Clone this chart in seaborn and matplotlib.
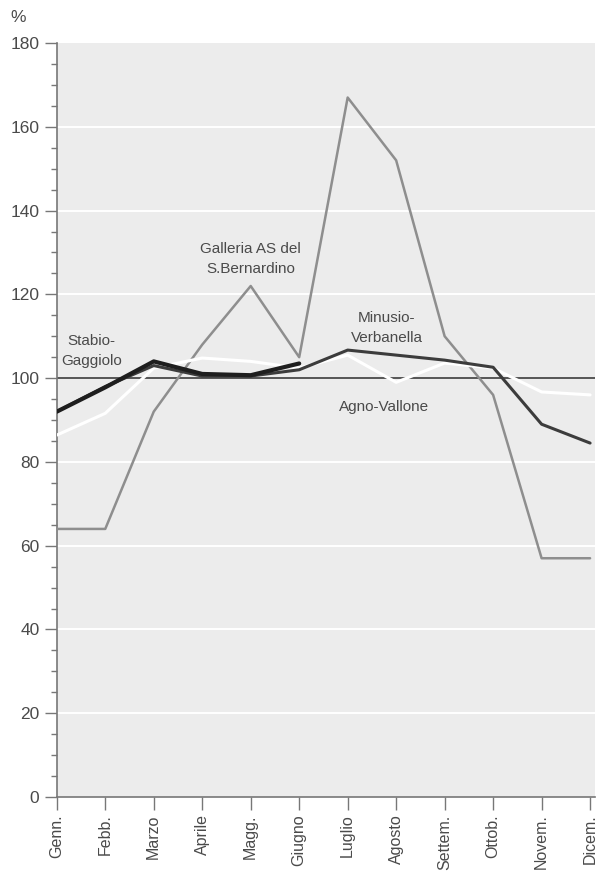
import matplotlib
matplotlib.use("Agg")
import matplotlib.pyplot as plt
import numpy as np
import pandas as pd
import seaborn as sns
from matplotlib import font_manager
from matplotlib.ticker import MultipleLocator

months = ["Genn.", "Febb.", "Marzo", "Aprile", "Magg.", "Giugno",
          "Luglio", "Agosto", "Settem.", "Ottob.", "Novem.", "Dicem."]

bernardino = [64, 64, 92, 108, 122, 105, 167, 152, 110, 96, 57, 57]
agno = [86.4, 91.6, 102.4, 104.8, 104, 102.4, 105.5, 99, 103.6, 102.4, 96.7, 96]
minusio = [92, 98, 103, 100.5, 100.5, 102, 106.7, 105.5, 104.3, 102.6, 89, 84.5]
stabio = [92, 97.8, 104, 101, 100.7, 103.5, np.nan, np.nan, np.nan, np.nan, np.nan, np.nan]

sns.set_style("white", {"axes.facecolor": "#ececec"})
names = {f.name for f in font_manager.fontManager.ttflist}
fam = "Liberation Sans Narrow" if "Liberation Sans Narrow" in names else "Liberation Sans"
plt.rcParams["font.family"] = [fam, "DejaVu Sans"]
txt = "#4a4a4a"

df = pd.DataFrame({"x": np.arange(12), "bern": bernardino, "agno": agno,
                   "minusio": minusio, "stabio": stabio})

fig = plt.figure(figsize=(6.04, 8.88), dpi=100)
ax = fig.add_axes([0.094, 0.1025, 0.891, 0.849])

# white horizontal bands like the printed original
for v in range(20, 180, 20):
    ax.axhline(v, color="white", lw=1.4, zorder=1)

ax.axhline(100, color="#555555", lw=1.4, zorder=2)
sns.lineplot(data=df, x="x", y="bern", color="#8e8e8e", lw=1.8, ax=ax, zorder=3)
sns.lineplot(data=df, x="x", y="agno", color="white", lw=2.2, ax=ax, zorder=4)
sns.lineplot(data=df, x="x", y="minusio", color="#3c3c3c", lw=2.2, ax=ax, zorder=5)
sns.lineplot(data=df, x="x", y="stabio", color="#1e1e1e", lw=3.0, ax=ax, zorder=6)

ax.set_xlim(0, 11.1)
ax.set_ylim(0, 180)
ax.set_xticks(range(12))
ax.set_xticklabels(months, rotation=90, fontsize=11.5, color=txt)
ax.yaxis.set_major_locator(MultipleLocator(20))
ax.yaxis.set_minor_locator(MultipleLocator(5))
ax.tick_params(axis="y", which="major", length=9, width=1, color="#777777",
               labelsize=12.5, labelcolor=txt, left=True)
ax.tick_params(axis="y", which="minor", length=4, width=1, color="#777777", left=True)
ax.tick_params(axis="x", length=9, width=1, color="#777777", bottom=True)
ax.set_xlabel("")
ax.set_ylabel("")
for s in ["top", "right"]:
    ax.spines[s].set_visible(False)
for s in ["left", "bottom"]:
    ax.spines[s].set_color("#777777")
    ax.spines[s].set_linewidth(1.2)

fig.text(0.018, 0.975, "%", fontsize=12.5, color=txt)
lab = dict(fontsize=11, color=txt, ha="center", va="center", linespacing=1.5)
ax.text(4.0, 128.5, "Galleria AS del\nS.Bernardino", **lab)
ax.text(0.72, 106.5, "Stabio-\nGaggiolo", **lab)
ax.text(6.8, 112, "Minusio-\nVerbanella", **lab)
ax.text(6.75, 93, "Agno-Vallone", **lab)

fig.savefig("out.png", dpi=100)
